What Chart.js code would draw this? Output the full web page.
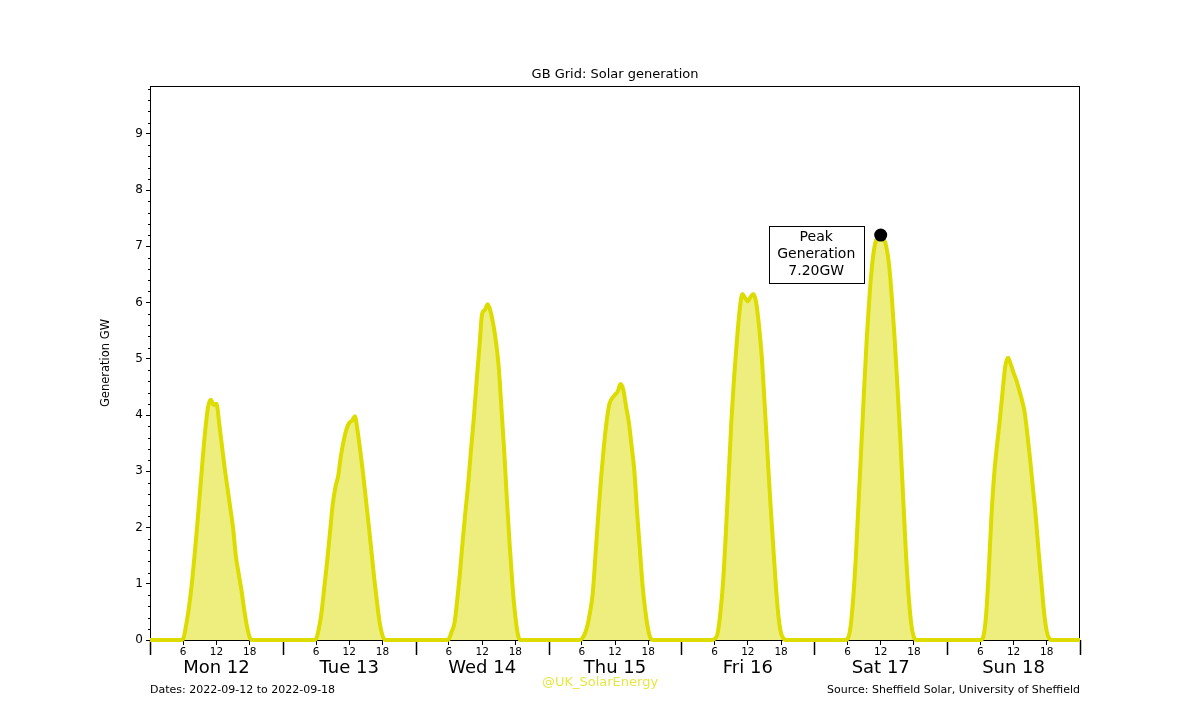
<!DOCTYPE html>
<html>
<head>
<meta charset="utf-8">
<title>GB Grid: Solar generation</title>
<script src="https://cdn.jsdelivr.net/npm/chart.js@4"></script>
<style>
  html, body { margin: 0; padding: 0; background: #fff; }
  #wrap { width: 1200px; height: 720px; }
</style>
</head>
<body>
<div id="wrap"><canvas id="solarChart" width="1200" height="720"></canvas></div>
<script>
// half-hourly generation (GW), 00:00 .. 23:30 for each day
const mon = [
  0, 0, 0, 0, 0, 0, 0, 0, 0, 0, 0, 0,
  0.02, 0.25, 0.55, 0.95, 1.45, 2.0, 2.6, 3.2, 3.75, 4.15, 4.27, 4.18, 4.2,
  3.85, 3.45, 3.05, 2.7, 2.35, 2.0, 1.5, 1.19, 0.9, 0.55, 0.25, 0.05, 0,
  0, 0, 0, 0, 0, 0, 0, 0, 0, 0
];
const tue = [
  0, 0, 0, 0, 0, 0, 0, 0, 0, 0, 0, 0,
  0.02, 0.2, 0.5, 0.95, 1.4, 1.9, 2.4, 2.72, 2.92, 3.28, 3.55, 3.75, 3.86,
  3.9, 3.98, 3.72, 3.35, 2.95, 2.5, 2.05, 1.58, 1.1, 0.68, 0.3, 0.08, 0,
  0, 0, 0, 0, 0, 0, 0, 0, 0, 0
];
const wed = [
  0, 0, 0, 0, 0, 0, 0, 0, 0, 0, 0, 0,
  0.02, 0.15, 0.3, 0.71, 1.2, 1.78, 2.3, 2.8, 3.4, 3.95, 4.6, 5.2, 5.8,
  5.87, 5.97, 5.85, 5.62, 5.3, 4.85, 4.1, 3.33, 2.45, 1.65, 0.95, 0.42, 0.08, 0,
  0, 0, 0, 0, 0, 0, 0, 0, 0
];
const thu = [
  0, 0, 0, 0, 0, 0, 0, 0, 0, 0, 0, 0,
  0.02, 0.1, 0.25, 0.5, 0.85, 1.55, 2.25, 2.9, 3.45, 3.9, 4.2, 4.3, 4.36,
  4.42, 4.55, 4.45, 4.15, 3.87, 3.45, 3.0, 2.26, 1.6, 0.95, 0.5, 0.18, 0.02, 0,
  0, 0, 0, 0, 0, 0, 0, 0, 0
];
const fri = [
  0, 0, 0, 0, 0, 0, 0, 0, 0, 0, 0, 0,
  0.02, 0.1, 0.45, 1.0, 1.85, 2.85, 3.85, 4.65, 5.3, 5.85, 6.15, 6.08, 6.02,
  6.1, 6.15, 6.0, 5.6, 5.05, 4.25, 3.4, 2.55, 1.8, 1.05, 0.45, 0.12, 0.02, 0,
  0, 0, 0, 0, 0, 0, 0, 0, 0
];
const sat = [
  0, 0, 0, 0, 0, 0, 0, 0, 0, 0, 0, 0,
  0.02, 0.2, 0.7, 1.46, 2.45, 3.45, 4.45, 5.4, 6.15, 6.72, 7.05, 7.16, 7.2,
  7.14, 7.0, 6.68, 6.1, 5.38, 4.55, 3.65, 2.64, 1.65, 0.85, 0.3, 0.05, 0,
  0, 0, 0, 0, 0, 0, 0, 0, 0, 0
];
// last value is midnight at the end of the week
const sun = [
  0, 0, 0, 0, 0, 0, 0, 0, 0, 0, 0, 0,
  0, 0.05, 0.4, 1.19, 2.2, 2.95, 3.45, 3.9, 4.4, 4.87, 5.02, 4.9, 4.75,
  4.62, 4.45, 4.27, 4.05, 3.65, 3.2, 2.7, 2.2, 1.6, 1.05, 0.5, 0.15, 0.02, 0,
  0, 0, 0, 0, 0, 0, 0, 0, 0,
  0
];

const week = [mon, tue, wed, thu, fri, sat, sun];
const dayLabels = ['Mon 12', 'Tue 13', 'Wed 14', 'Thu 15', 'Fri 16', 'Sat 17', 'Sun 18'];
const hourTicks = [6, 12, 18];
const yTicks = [0, 1, 2, 3, 4, 5, 6, 7, 8, 9];

const solarPoints = [];
week.forEach((day, d) => {
  day.forEach((v, i) => solarPoints.push({ x: d * 24 + i * 0.5, y: v }));
});

let peak = solarPoints[0];
solarPoints.forEach(p => { if (p.y > peak.y) peak = p; });

const FONT = '"DejaVu Sans", Verdana, sans-serif';

const decorations = {
  id: 'decorations',
  beforeDatasetsDraw(chart) {
    const { ctx, chartArea: a } = chart;
    const x = chart.scales.x, y = chart.scales.y;
    ctx.save();
    ctx.strokeStyle = '#000';
    ctx.lineWidth = 1;
    ctx.strokeRect(a.left + 0.5, a.top + 0.5, a.right - a.left - 1, a.bottom - a.top);

    // minor y ticks
    ctx.beginPath();
    for (let v = 0.2; v < y.max; v += 0.2) {
      if (Math.abs(v - Math.round(v)) < 0.01) continue;
      const py = Math.round(y.getPixelForValue(v)) + 0.5;
      ctx.moveTo(a.left - 2, py);
      ctx.lineTo(a.left, py);
    }
    ctx.stroke();

    // day boundary ticks
    ctx.lineWidth = 1.5;
    ctx.beginPath();
    for (let d = 0; d <= week.length; d++) {
      const px = Math.round(x.getPixelForValue(d * 24)) + 0.5;
      ctx.moveTo(px, a.bottom);
      ctx.lineTo(px, a.bottom + 15);
    }
    ctx.stroke();
    ctx.restore();
  },
  afterDraw(chart) {
    const { ctx, chartArea: a } = chart;
    const x = chart.scales.x, y = chart.scales.y;
    ctx.save();
    ctx.fillStyle = '#000';
    ctx.textAlign = 'center';
    ctx.textBaseline = 'middle';

    ctx.font = '13px ' + FONT;
    ctx.fillText('GB Grid: Solar generation', (a.left + a.right) / 2, 75);

    ctx.save();
    ctx.translate(106, (a.top + a.bottom) / 2);
    ctx.rotate(-Math.PI / 2);
    ctx.font = '11.5px ' + FONT;
    ctx.fillText('Generation GW', 0, 0);
    ctx.restore();

    ctx.font = '18px ' + FONT;
    dayLabels.forEach((lbl, d) => {
      ctx.fillText(lbl, x.getPixelForValue(d * 24 + 12), 668);
    });

    ctx.font = '11px ' + FONT;
    ctx.textAlign = 'left';
    ctx.fillText('Dates: 2022-09-12 to 2022-09-18', a.left, 690);
    ctx.textAlign = 'right';
    ctx.fillText('Source: Sheffield Solar, University of Sheffield', a.right, 690);

    ctx.textAlign = 'center';
    ctx.font = '13px ' + FONT;
    ctx.fillStyle = 'rgba(221, 221, 0, 0.75)';
    ctx.fillText('@UK_SolarEnergy', 600, 683);

    // peak annotation
    const px = x.getPixelForValue(peak.x), py = y.getPixelForValue(peak.y);
    const bx = px - 112, by = py - 9, bw = 95, bh = 57;
    ctx.fillStyle = '#fff';
    ctx.fillRect(bx, by, bw, bh);
    ctx.strokeStyle = '#000';
    ctx.lineWidth = 1;
    ctx.strokeRect(Math.round(bx) + 0.5, Math.round(by) + 0.5, bw, bh);
    ctx.fillStyle = '#000';
    ctx.font = '14px ' + FONT;
    const cx = bx + bw / 2;
    ctx.fillText('Peak', cx, py + 2);
    ctx.fillText('Generation', cx, py + 19);
    ctx.fillText(peak.y.toFixed(2) + 'GW', cx, py + 36);
    ctx.restore();
  }
};

new Chart(document.getElementById('solarChart'), {
  type: 'line',
  data: {
    datasets: [{
      label: 'Peak',
      data: [peak],
      showLine: false,
      pointRadius: 6.5,
      pointBackgroundColor: '#000',
      pointBorderColor: '#000',
      pointBorderWidth: 0,
      order: 0
    }, {
      label: 'Solar generation',
      data: solarPoints,
      borderColor: '#dcdc00',
      borderWidth: 4,
      backgroundColor: 'rgba(221, 221, 0, 0.5)',
      fill: 'origin',
      pointRadius: 0,
      cubicInterpolationMode: 'monotone',
      clip: false,
      order: 1
    }]
  },
  options: {
    responsive: false,
    animation: false,
    layout: { padding: { top: 86, right: 120, left: 0, bottom: 0 } },
    plugins: {
      legend: { display: false },
      tooltip: { enabled: false },
      title: { display: false }
    },
    scales: {
      x: {
        type: 'linear',
        min: 0,
        max: 168,
        afterFit(scale) { scale.height = 80; },
        afterBuildTicks(scale) {
          scale.ticks = [];
          for (let d = 0; d < week.length; d++) {
            hourTicks.forEach(h => scale.ticks.push({ value: d * 24 + h }));
          }
        },
        grid: { drawOnChartArea: false, tickLength: 5, tickColor: '#000' },
        border: { display: true, color: '#000' },
        ticks: {
          autoSkip: false,
          maxRotation: 0,
          padding: 1,
          color: '#000',
          font: { family: FONT, size: 10.5 },
          callback: v => String(v % 24)
        }
      },
      y: {
        min: 0,
        max: 9.85,
        afterFit(scale) { scale.width = 150; },
        afterBuildTicks(scale) {
          scale.ticks = yTicks.map(v => ({ value: v }));
        },
        grid: { drawOnChartArea: false, tickLength: 4, tickColor: '#000' },
        border: { display: true, color: '#000' },
        ticks: {
          padding: 3,
          color: '#000',
          font: { family: FONT, size: 12 }
        }
      }
    }
  },
  plugins: [decorations]
});
</script>
</body>
</html>
